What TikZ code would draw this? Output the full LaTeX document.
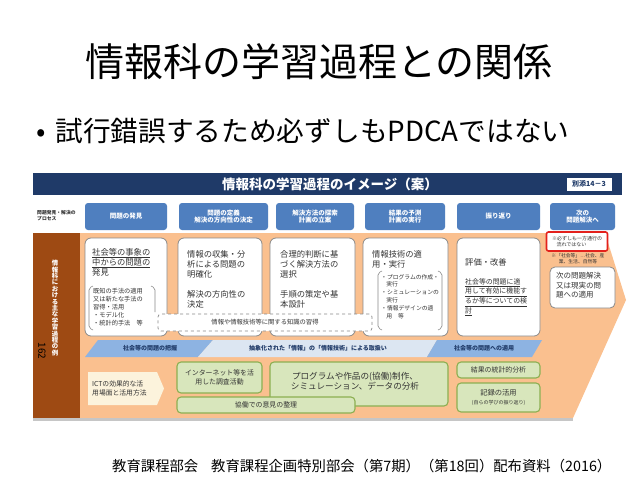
\documentclass[tikz,border=0pt]{standalone}
\usepackage{fontspec}
\setmainfont{Noto Sans CJK JP}
\definecolor{navy}{HTML}{1F3A68}
\definecolor{procblue}{HTML}{4F7FBF}
\definecolor{orangebg}{HTML}{FAC08F}
\definecolor{brownband}{HTML}{9E4A13}
\definecolor{boxgray}{HTML}{8A8A8A}
\definecolor{txt}{HTML}{333333}
\definecolor{gfill}{HTML}{D8E6BC}
\definecolor{gline}{HTML}{8CAF52}
\definecolor{cream}{HTML}{FCF3DC}
\definecolor{bandmid}{HTML}{8DB3E2}
\definecolor{bandlight}{HTML}{DCE6F2}
\definecolor{redbox}{HTML}{E3211C}
\begin{document}
\begin{tikzpicture}[x=1pt,y=-1pt,
  procbox/.style={fill=procblue, rounded corners=3pt, text=white, font=\bfseries\fontsize{6.5}{7.8}\selectfont, align=center, inner sep=0pt},
  wbox/.style={fill=white, draw=boxgray, line width=0.8pt, rounded corners=6pt, inner sep=0pt},
  gbox/.style={fill=gfill, draw=gline, line width=1.1pt, rounded corners=4pt, inner sep=0pt, text=txt, align=center},
  txtl/.style={anchor=north west, inner sep=0pt, align=left, text=txt},
  bigt/.style={font=\fontsize{8.3}{10.3}\selectfont},
  smallt/.style={font=\fontsize{6.2}{8.1}\selectfont},
  bandt/.style={inner sep=0pt, text=navy, font=\bfseries\fontsize{6}{7}\selectfont},
  brk/.style={draw=boxgray, line width=0.6pt, rounded corners=2pt}
]
\useasboundingbox (0,0) rectangle (638,479);
\fill[white] (0,0) rectangle (638,479);

% slide texts
\node[inner sep=0pt, font=\fontsize{39}{41}\selectfont] (title) at (319,62) {情報科の学習過程との関係};
\node[anchor=west, inner sep=0pt, font=\fontsize{27.7}{30}\selectfont] (bullet) at (36,131) {•\hspace{0.35em}試行錯誤するため必ずしもPDCAではない};
\node[anchor=west, inner sep=0pt, font=\fontsize{14.35}{16}\selectfont] (cite) at (112,466) {教育課程部会\hspace{0.9em}教育課程企画特別部会（第7期）（第18回）配布資料（2016）};

% header bar
\fill[navy] (33,173) rectangle (622,195);
\node[inner sep=0pt, text=white, font=\bfseries\fontsize{13.5}{15}\selectfont] (htitle) at (330,184) {情報科の学習過程のイメージ（案）};
\node[fill=white, draw=navy, inner sep=0pt, minimum width=46pt, minimum height=14pt, text=navy, font=\bfseries\fontsize{7}{8}\selectfont] (annex) at (589,184) {別添14－3};

% process row
\node[txtl, anchor=west, font=\bfseries\fontsize{4.8}{6}\selectfont] (plabel) at (37,216) {問題発見・解決の\\プロセス};
\node[procbox, minimum width=82pt, minimum height=27pt] (p1) at (126,216.5) {問題の発見};
\node[procbox, minimum width=89pt, minimum height=27pt] (p2) at (223.5,216.5) {問題の定義\\解決の方向性の決定};
\node[procbox, minimum width=78pt, minimum height=27pt] (p3) at (315,216.5) {解決方法の探索\\計画の立案};
\node[procbox, minimum width=80pt, minimum height=27pt] (p4) at (405,216.5) {結果の予測\\計画の実行};
\node[procbox, minimum width=83pt, minimum height=27pt] (p5) at (498.5,216.5) {振り返り};
\node[procbox, minimum width=65pt, minimum height=27pt] (p6) at (582.5,216.5) {次の\\問題解決へ};

% orange area and left band
\fill[orangebg] (80,233) -- (605,233) -- (626,300) -- (573,418) -- (80,418) -- cycle;
\fill[gray!45] (33,418) rectangle (573,421);
\fill[brownband] (33,233) rectangle (80,418);
\node[inner sep=0pt, text=white, align=center, font=\bfseries\fontsize{6.4}{6.4}\selectfont] (vtext) at (55,308) {情\\報\\科\\に\\お\\け\\る\\主\\な\\学\\習\\過\\程\\の\\例};
\node[inner sep=0pt, rotate=-90, text=black, font=\fontsize{10}{10}\selectfont] (pgnum) at (42,351) {162};

% white boxes
\node[wbox, minimum width=82pt, minimum height=98pt] (wa) at (126,287) {};
\node[wbox, minimum width=84pt, minimum height=98pt] (wb) at (220,287) {};
\node[wbox, minimum width=85pt, minimum height=98pt] (wc) at (312.5,287) {};
\node[wbox, minimum width=85pt, minimum height=98pt] (wd) at (405.5,287) {};
\node[wbox, minimum width=83pt, minimum height=98pt] (we) at (498.5,287) {};
\node[wbox, minimum width=65pt, minimum height=41pt, rounded corners=5pt] (wf) at (582.5,287.5) {};

% box A
\node[txtl, bigt] (ta) at (92,248) {\underline{社会等の事象の}\\\underline{中からの問題の}\\発見};
\draw[brk] (93,286) -- (89,288) -- (89,328) -- (93,330);
\draw[brk] (151,286) -- (155,288) -- (155,312);
\node[txtl, smallt] (ta2) at (93,288) {既知の手法の適用\\又は新たな手法の\\習得・活用\\・モデル化\\・統計的手法　等};

% box B
\node[txtl, bigt] (tb) at (187,250) {情報の収集・分\\析による問題の\\明確化};
\node[txtl, bigt] (tb2) at (187,290) {解決の方向性の\\決定};

% box C
\node[txtl, bigt] (tc) at (280,250) {合理的判断に基\\づく解決方法の\\選択};
\node[txtl, bigt] (tc2) at (280,290) {手順の策定や基\\本設計};

% box D
\node[txtl, bigt] (td) at (372,250) {情報技術の適\\用・実行};
\draw[brk] (382,271) -- (378,273) -- (378,328) -- (382,330);
\draw[brk] (438,271) -- (442,273) -- (442,328) -- (438,330);
\node[txtl, font=\fontsize{5.8}{7.9}\selectfont] (td2) at (381,274) {・プログラムの作成・\\\hspace{0.9em}実行\\・シミュレーションの\\\hspace{0.9em}実行\\・情報デザインの適\\\hspace{0.9em}用　等};

% box E
\node[txtl, bigt] (te) at (465,258) {評価・改善};
\node[txtl, font=\fontsize{6.9}{9.9}\selectfont] (te2) at (465,278) {\underline{社会等の問題に適}\\\underline{用して有効に機能す}\\\underline{るか等についての検}\\\underline{討}};

% red note and remark
\node[fill=white, draw=redbox, line width=1.6pt, rounded corners=2pt, minimum width=61pt, minimum height=19pt, inner sep=0pt, align=left, text=txt, font=\fontsize{5}{6.2}\selectfont] (red) at (577,241.5) {※必ずしも一方通行の\\\hspace{0.9em}流れではない};
\node[inner sep=0pt, align=center, text=txt, font=\fontsize{4.8}{5.8}\selectfont] (remark) at (578,259) {※「社会等」…社会、産\\業、生活、自然等};

% box F
\node[txtl, font=\fontsize{7.5}{9.6}\selectfont] (tf) at (556,272) {次の問題解決\\又は現実の問\\題への適用};

% dashed knowledge box
\node[fill=white, draw=boxgray, dashed, line width=0.7pt, rounded corners=3pt, minimum width=214pt, minimum height=17pt, inner sep=0pt, text=txt, font=\fontsize{6.3}{7}\selectfont] (know) at (265,322.5) {情報や情報技術等に関する知識の習得};

% blue bands
\fill[bandmid] (85,357) -- (98,340) -- (213,340) -- (198,357) -- cycle;
\fill[bandlight] (198,357) -- (213,340) -- (437,340) -- (427,357) -- cycle;
\fill[bandmid] (427,357) -- (437,340) -- (542,340) -- (532,357) -- cycle;
\node[bandt] (b1) at (150,348.5) {社会等の問題の把握};
\node[bandt] (b2) at (318,348.5) {抽象化された「情報」の「情報技術」による取扱い};
\node[bandt] (b3) at (484,348.5) {社会等の問題への適用};

% ICT arrow box
\fill[cream] (88,372) -- (157,372) -- (164,388.5) -- (157,405) -- (88,405) -- cycle;
\node[txtl, anchor=west, font=\fontsize{6.8}{9.5}\selectfont] (ict) at (92,388.5) {ICTの効果的な活\\用場面と活用方法};

% green boxes
\node[gbox, minimum width=85pt, minimum height=31pt, font=\fontsize{6.9}{8.6}\selectfont] (g1) at (219.5,377.5) {インターネット等を活\\用した調査活動};
\node[gbox, minimum width=178pt, minimum height=44pt] (g2) at (359,384) {};
\node[inner sep=0pt, align=center, text=txt, font=\fontsize{8.6}{10.2}\selectfont] (g2t) at (355,381) {プログラムや作品の(協働)制作、\\シミュレーション、データの分析};
\node[gbox, minimum width=178pt, minimum height=16pt, font=\fontsize{6.9}{8}\selectfont] (g3) at (266,405) {協働での意見の整理};
\node[gbox, minimum width=83pt, minimum height=16pt, font=\fontsize{6.9}{8}\selectfont] (g4) at (498.5,370) {結果の統計的分析};
\node[gbox, minimum width=83pt, minimum height=29pt, font=\fontsize{7.3}{8.8}\selectfont] (g5) at (498.5,397.5) {記録の活用\\{\fontsize{5}{6}\selectfont(自らの学びの振り返り)}};
\end{tikzpicture}
\end{document}
